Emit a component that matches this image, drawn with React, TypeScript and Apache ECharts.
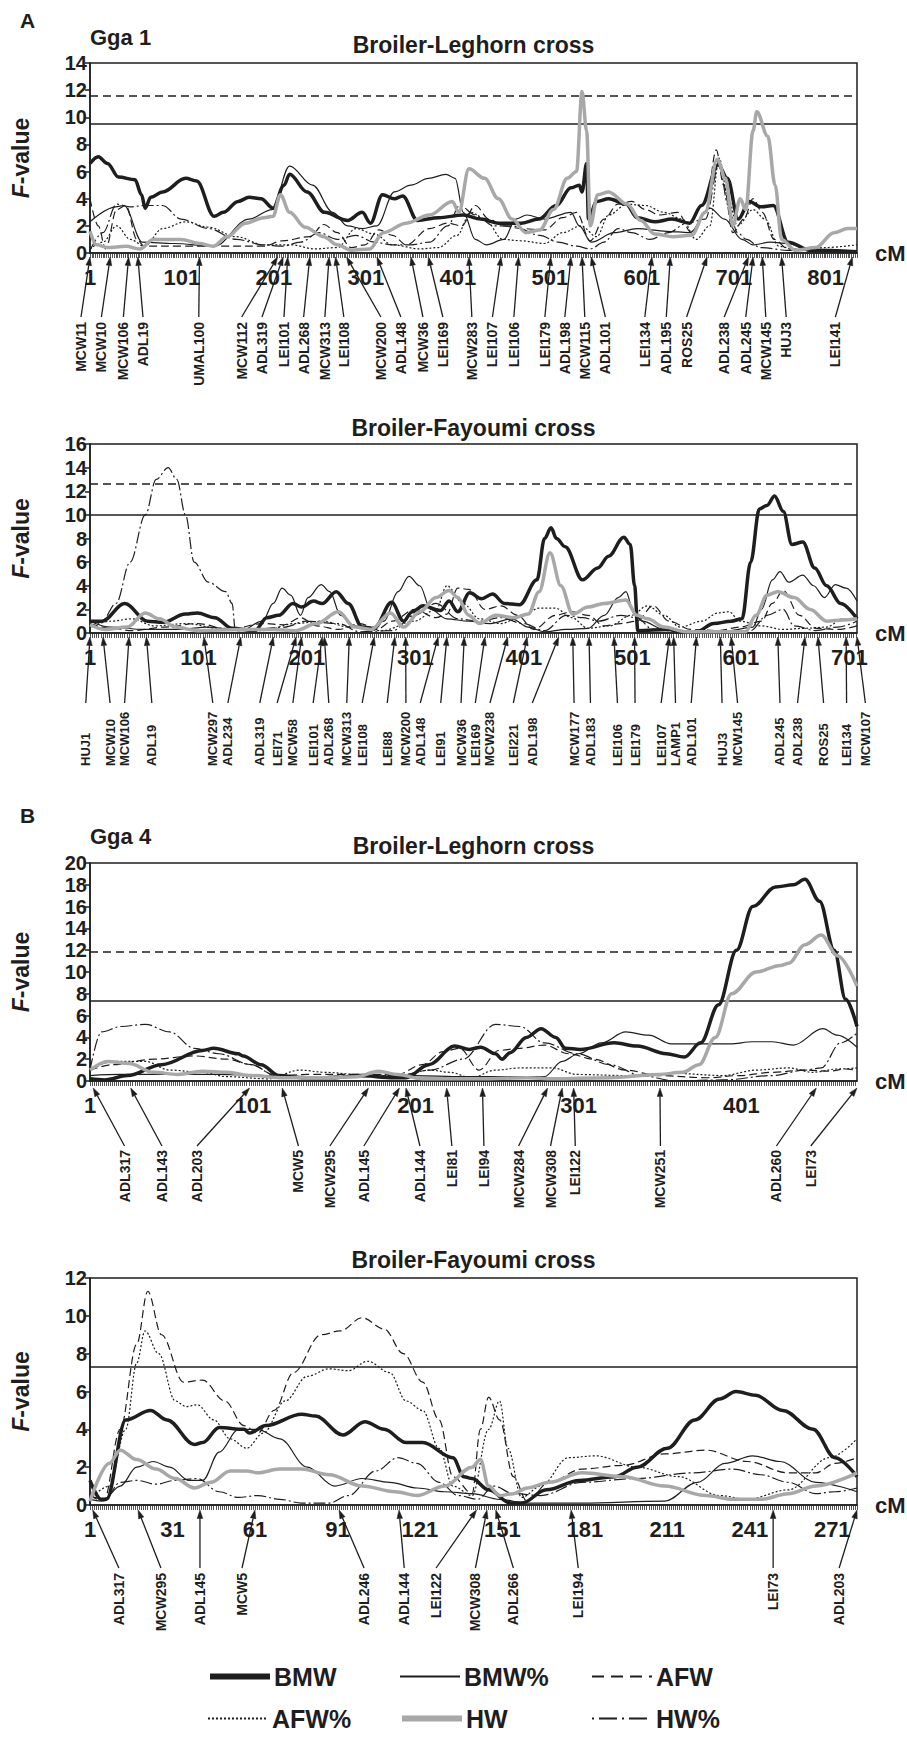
import React, { useEffect, useRef } from "react";
import * as echarts from "echarts";

// ---------------- DATA ----------------
const SERIES_NAMES = ["BMW", "BMW%", "AFW", "AFW%", "HW", "HW%"];

// Panel 1 : Gga 1, Broiler-Leghorn cross
const P1_XLABELS = [1, 101, 201, 301, 401, 501, 601, 701, 801];
const P1_THRESH = [9.5, 11.6];
const P1_BMW = [[1,6.6],[10,7.1],[20,6.6],[32,5.6],[50,5.4],[57,4.3],[61,3.3],[67,4.1],[80,4.5],[105,5.5],[117,5.3],[136,2.7],[146,3.0],[162,3.8],[174,4.1],[187,4.0],[200,3.3],[212,5.0],[218,5.8],[237,4.5],[256,3.0],[281,2.4],[297,3.0],[306,2.2],[319,4.3],[332,4.0],[341,4.2],[357,2.4],[380,2.6],[407,2.8],[426,2.5],[445,2.2],[470,2.2],[489,2.5],[508,3.5],[524,4.8],[533,5.0],[536,4.5],[541,6.6],[543,2.5],[552,3.8],[565,4.0],[584,3.6],[596,2.6],[615,2.3],[634,2.5],[653,2.2],[666,3.5],[684,6.5],[694,5.5],[706,2.5],[718,3.8],[730,3.4],[744,3.5],[760,0.8],[785,0.2],[835,0.1]];
const P1_BMWP = [[1,2.3],[29,3.4],[38,3.5],[58,0.8],[92,0.7],[136,0.5],[174,2.5],[199,3.2],[218,6.4],[243,5.0],[265,3.0],[281,2.0],[297,1.8],[313,2.0],[332,4.5],[350,5.0],[369,5.5],[388,5.8],[398,5.5],[407,3.0],[420,1.0],[432,0.6],[451,1.0],[464,2.5],[476,2.8],[495,2.5],[524,3.0],[533,2.0],[546,0.8],[571,1.5],[596,1.8],[628,1.6],[653,1.5],[675,3.3],[691,2.5],[710,1.0],[722,0.6],[741,0.8],[760,0.7],[785,0.1],[835,0.1]];
const P1_AFW = [[1,4.0],[10,2.0],[18,0.3],[30,3.2],[40,3.5],[52,1.0],[60,0.5],[100,0.5],[140,0.5],[190,0.5],[210,0.9],[240,1.2],[255,2.1],[270,1.5],[285,0.4],[300,0.6],[315,1.7],[330,1.3],[345,0.6],[370,1.8],[390,2.2],[405,2.0],[420,3.5],[435,2.5],[450,2.0],[470,1.8],[495,1.7],[515,2.6],[530,3.0],[545,0.9],[560,2.5],[575,3.6],[590,3.8],[605,3.2],[620,2.8],[640,3.0],[655,1.5],[670,3.0],[682,7.6],[690,5.0],[700,1.5],[712,2.5],[722,4.0],[732,3.0],[745,1.0],[760,0.3],[800,0.2],[835,0.1]];
const P1_AFWP = [[1,0.3],[15,0.8],[30,2.0],[45,1.0],[60,0.5],[80,1.8],[105,2.3],[130,1.9],[160,1.2],[190,0.6],[220,0.6],[245,0.3],[270,0.4],[290,1.8],[310,1.4],[330,0.6],[360,0.3],[380,0.4],[400,1.3],[415,3.0],[430,2.5],[450,1.0],[470,0.9],[495,0.7],[515,1.5],[535,2.0],[552,1.2],[565,2.8],[585,3.6],[605,3.5],[625,3.0],[645,2.5],[660,1.0],[675,2.0],[685,7.0],[695,4.0],[705,2.0],[722,3.2],[735,2.5],[750,0.5],[770,0.2],[800,0.4],[835,0.6]];
const P1_HW = [[1,1.6],[8,0.6],[20,0.4],[40,0.5],[55,0.3],[70,1.0],[100,1.0],[120,0.7],[135,0.5],[150,1.2],[170,2.2],[190,2.6],[200,2.7],[208,4.3],[218,3.0],[235,1.9],[255,1.2],[270,0.6],[285,0.2],[305,0.3],[320,1.5],[345,2.2],[370,2.8],[395,3.8],[402,3.0],[413,6.2],[430,5.5],[445,4.0],[460,2.5],[475,1.5],[490,1.7],[505,3.2],[520,5.5],[530,6.0],[536,11.9],[541,9.0],[545,2.0],[553,4.3],[565,4.5],[585,3.6],[600,2.4],[615,1.4],[635,1.2],[655,1.3],[670,3.0],[683,6.9],[692,5.5],[700,2.0],[708,4.0],[714,3.2],[722,9.0],[726,10.4],[738,8.6],[746,5.0],[753,1.0],[768,0.2],[790,0.4],[810,1.5],[825,1.8],[835,1.8]];
const P1_HWP = [[1,0.2],[15,1.5],[30,3.6],[45,3.4],[60,3.5],[80,3.5],[100,2.5],[130,1.8],[160,1.0],[190,0.6],[210,0.5],[230,0.8],[250,1.5],[270,1.0],[290,1.3],[310,0.8],[330,0.6],[350,0.6],[370,0.8],[390,2.0],[403,3.5],[420,2.8],[440,2.0],[460,2.0],[490,1.3],[510,0.8],[530,0.5],[545,0.3],[560,0.8],[575,1.8],[590,1.5],[610,1.0],[630,1.5],[650,2.2],[670,2.5],[685,6.5],[695,3.5],[705,1.5],[715,1.0],[730,0.4],[760,0.2],[835,0.1]];
const P1_MARKERS = ["MCW11","MCW10","MCW106","ADL19","UMAL100","MCW112","ADL319","LEI101","ADL268","MCW313","LEI108","MCW200","ADL148","MCW36","LEI169","MCW283","LEI107","LEI106","LEI179","ADL198","MCW115","ADL101","LEI134","ADL195","ROS25","ADL238","ADL245","MCW145","HUJ3","LEI141"];
const P1_MARKER_CM = [1,23,43,53,120,205,211,216,240,261,268,280,313,350,369,413,448,467,502,524,536,546,612,632,672,717,722,732,753,830];
const P1_LABEL_CM = [-8.8,13.4,37.3,58.6,119.3,165.9,188,211.9,233.3,256.4,277,317.3,339,363,384.7,416.2,438.6,461.9,495.6,517.3,539,561.4,604.3,627.6,649.7,690.6,714,735.8,758,811.5];

// Panel 2 : Gga 1, Broiler-Fayoumi cross
const P2_XLABELS = [1, 101, 201, 301, 401, 501, 601, 701];
const P2_THRESH = [10.0, 12.6];
const P2_BMW = [[1,1.0],[12,1.0],[33,2.5],[54,1.0],[68,0.9],[89,1.6],[100,1.7],[116,1.3],[132,0.4],[153,0.2],[164,1.3],[175,1.5],[188,2.5],[196,2.2],[207,2.7],[215,2.5],[228,3.5],[239,2.5],[252,0.5],[263,0.4],[279,2.6],[290,1.0],[298,1.8],[308,2.3],[324,1.9],[332,2.7],[340,1.8],[351,3.4],[362,2.9],[372,3.3],[383,2.5],[397,2.4],[413,4.5],[420,8.0],[426,8.9],[431,8.0],[439,7.3],[455,4.5],[469,5.5],[479,6.5],[493,8.1],[499,7.5],[503,4.0],[506,0.2],[533,0.3],[549,0.1],[560,0.1],[576,0.8],[592,1.0],[602,1.2],[610,6.0],[618,10.5],[625,10.8],[632,11.6],[640,10.3],[648,7.5],[658,7.7],[669,5.5],[680,4.0],[693,2.5],[708,1.2]];
const P2_BMWP = [[1,1.0],[20,0.5],[50,0.3],[80,0.3],[110,0.5],[140,0.2],[160,1.0],[170,2.5],[178,3.8],[186,3.2],[195,1.5],[202,3.0],[214,4.1],[222,3.5],[232,1.5],[245,0.6],[260,0.4],[272,1.0],[285,3.5],[295,4.8],[305,4.0],[315,2.0],[330,1.2],[350,1.0],[370,0.8],[390,1.2],[405,0.5],[420,0.1],[440,0.3],[460,0.4],[475,1.5],[488,3.0],[495,3.5],[502,1.8],[510,1.0],[530,0.3],[560,0.1],[590,0.2],[612,0.5],[620,2.0],[630,4.5],[637,5.2],[645,4.3],[658,4.9],[668,4.0],[678,3.0],[688,4.1],[698,3.8],[708,2.7]];
const P2_AFW = [[1,0.8],[20,0.4],[40,0.2],[70,0.5],[100,0.8],[130,0.3],[160,0.8],[180,0.7],[195,1.3],[210,0.6],[230,0.3],[250,0.8],[265,0.3],[280,1.0],[300,2.0],[320,1.3],[330,1.6],[340,3.8],[350,3.7],[365,2.0],[380,2.3],[395,1.5],[410,0.3],[430,1.5],[445,1.8],[460,1.5],[475,0.6],[490,0.8],[505,1.0],[520,2.3],[535,1.0],[555,0.3],[580,0.2],[600,0.5],[620,1.0],[630,2.5],[640,3.6],[655,1.5],[670,0.4],[690,0.3],[708,0.6]];
const P2_AFWP = [[1,0.5],[20,1.0],[40,1.2],[60,0.6],[90,0.8],[120,0.4],[160,0.2],[190,0.8],[215,1.0],[240,0.5],[270,0.2],[300,1.0],[320,2.0],[330,4.0],[345,2.5],[360,1.2],[380,0.8],[400,1.5],[415,2.1],[430,2.1],[445,1.3],[460,0.4],[480,0.6],[500,1.5],[515,2.3],[530,1.5],[545,0.5],[565,1.0],[580,1.7],[590,1.8],[600,1.0],[620,0.6],[640,0.3],[660,0.4],[680,0.5],[695,1.2],[708,1.0]];
const P2_HW = [[1,0.7],[15,0.3],[35,0.5],[52,1.7],[65,1.2],[80,0.5],[100,0.2],[140,0.3],[170,0.3],[190,0.2],[210,0.8],[230,1.8],[245,0.5],[260,0.3],[278,1.7],[290,0.5],[305,1.8],[320,3.0],[332,3.6],[340,3.0],[350,1.5],[360,0.8],[375,1.5],[392,1.3],[405,1.6],[415,3.5],[425,6.8],[435,4.0],[446,1.6],[460,2.2],[475,2.5],[495,2.8],[505,1.5],[515,1.2],[530,0.5],[550,0.1],[580,0.1],[605,0.1],[615,1.5],[625,3.2],[635,3.5],[650,3.0],[665,2.0],[680,1.0],[695,1.1],[708,1.2]];
const P2_HWP = [[1,1.0],[12,1.0],[25,2.5],[38,6.0],[52,10.0],[62,13.0],[73,14.0],[81,13.0],[89,10.0],[97,6.0],[110,4.3],[126,3.5],[132,2.5],[135,0.2],[150,0.3],[180,0.5],[200,1.0],[230,0.8],[250,0.1],[280,0.2],[300,1.5],[320,2.5],[340,1.2],[360,1.0],[380,1.3],[400,0.8],[420,0.2],[440,1.5],[455,1.3],[470,1.0],[490,1.5],[505,1.3],[520,0.3],[545,0.1],[580,0.1],[610,0.2],[625,1.5],[640,2.0],[650,0.6],[670,0.2],[690,0.5],[708,1.0]];
const P2_MARKERS = ["HUJ1","MCW10","MCW106","ADL19","MCW297","ADL234","ADL319","LEI71","MCW58","LEI101","ADL268","MCW313","LEI108","LEI88","MCW200","ADL148","LEI91","MCW36","LEI169","MCW238","LEI221","ADL198","MCW177","ADL183","LEI106","LEI179","LEI107","LAMP1","ADL101","HUJ3","MCW145","ADL245","ADL238","ROS25","LEI134","MCW107"];
const P2_MARKER_CM = [1,13,37,53,106,140,170,191,196,215,217,240,263,282,292,322,330,346,365,386,404,433,446,461,484,503,535,539,560,582,592,635,660,672,698,708];
const P2_LABEL_CM = [-2.9,19.5,32.9,58,114.2,128.1,157.5,173.5,188,206.7,221.1,237.7,251.9,275,292.2,305.4,324.3,343,356.2,369.7,391.2,408.7,447.2,462.3,487.2,503.4,527.5,540.7,555.2,583.6,597.9,637,653.2,677.2,698.4,715.7];

// Panel 3 : Gga 4, Broiler-Leghorn cross
const P3_XLABELS = [1, 101, 201, 301, 401];
const P3_THRESH = [7.4, 11.9];
const P3_BMW = [[1,0.2],[10,0.1],[24,0.5],[45,1.5],[70,2.8],[77,3.0],[92,2.5],[95,2.3],[106,1.5],[117,0.5],[131,0.3],[152,0.3],[166,0.5],[188,0.3],[195,0.3],[209,1.5],[225,3.2],[234,2.9],[241,3.1],[250,2.5],[254,2.0],[259,2.6],[269,4.0],[278,4.8],[287,4.0],[293,3.0],[302,2.9],[323,3.5],[337,3.2],[355,2.5],[366,2.2],[376,3.5],[387,7.0],[398,12.0],[408,16.0],[422,17.8],[433,18.0],[440,18.5],[449,16.5],[458,12.0],[465,7.5],[472,5.0]];
const P3_BMWP = [[1,0.5],[20,0.6],[50,0.6],[80,0.6],[110,0.5],[140,0.4],[170,0.4],[200,0.5],[230,0.4],[260,0.4],[280,0.4],[291,1.8],[301,2.5],[315,3.5],[330,4.5],[344,4.2],[358,3.4],[394,3.4],[408,3.6],[420,3.6],[433,3.3],[451,4.8],[460,4.2],[472,3.1]];
const P3_AFW = [[1,1.0],[15,1.5],[40,2.0],[65,2.3],[85,2.0],[100,1.5],[115,0.5],[135,0.6],[160,0.6],[190,0.6],[205,1.5],[218,2.7],[228,3.0],[240,1.0],[252,2.8],[265,3.0],[280,3.3],[295,2.5],[310,2.0],[330,1.0],[350,0.5],[380,0.3],[400,0.5],[420,0.8],[440,1.0],[455,0.9],[465,1.1],[472,1.0]];
const P3_AFWP = [[1,1.0],[15,1.8],[35,1.8],[50,1.0],[70,0.8],[85,0.4],[110,0.2],[130,1.0],[145,0.8],[165,0.6],[190,0.5],[210,1.0],[222,0.8],[235,0.3],[250,1.0],[265,1.2],[285,1.2],[300,0.6],[330,0.5],[360,0.7],[390,0.5],[410,1.0],[430,1.2],[445,0.8],[460,1.1],[472,1.2]];
const P3_HW = [[1,1.0],[12,1.8],[25,1.6],[40,0.8],[55,0.6],[70,0.9],[85,0.8],[100,0.5],[120,0.3],[145,0.3],[165,0.4],[178,0.9],[190,0.6],[205,0.2],[240,0.2],[270,0.3],[285,0.2],[320,0.3],[350,0.6],[365,0.8],[375,1.5],[385,4.0],[395,8.0],[410,10.0],[425,10.6],[430,10.8],[440,12.5],[450,13.4],[460,11.5],[472,8.7]];
const P3_HWP = [[1,1.0],[8,4.5],[20,5.0],[35,5.2],[50,4.5],[65,3.0],[80,2.5],[100,1.5],[115,0.5],[130,0.3],[160,0.5],[190,0.5],[210,1.0],[230,2.0],[250,5.2],[265,5.0],[280,3.5],[300,2.5],[320,1.5],[340,0.5],[360,0.0],[390,0.1],[420,0.5],[440,1.0],[450,1.2],[462,3.5],[472,4.4]];
const P3_MARKERS = ["ADL317","ADL143","ADL203","MCW5","MCW295","ADL145","ADL144","LEI81","LEI94","MCW284","MCW308","LEI122","MCW251","ADL260","LEI73"];
const P3_MARKER_CM = [3,26,99,119,172,191,195,220,242,282,291,298,351,447,472];
const P3_LABEL_CM = [22.2,45.2,66.7,129,148.3,169.2,203.6,223.2,242.9,264.2,283.8,299,351.3,422.5,443.6];

// Panel 4 : Gga 4, Broiler-Fayoumi cross
const P4_XLABELS = [1, 31, 61, 91, 121, 151, 181, 211, 241, 271];
const P4_THRESH = [7.3];
const P4_BMW = [[1,1.3],[5,0.3],[7,0.3],[14,4.5],[23,5.0],[29,4.5],[39,3.2],[42,3.3],[48,4.1],[57,4.0],[59,3.8],[65,4.2],[78,4.8],[83,4.7],[93,3.7],[101,4.4],[108,4.0],[116,3.3],[122,3.3],[133,2.5],[137,1.5],[140,1.4],[146,0.8],[154,0.1],[158,0.1],[167,0.8],[179,1.3],[192,1.5],[200,2.0],[211,3.0],[221,4.5],[230,5.6],[236,6.0],[243,5.8],[253,5.0],[264,4.0],[272,2.5],[280,1.5]];
const P4_BMWP = [[1,0.5],[6,0.3],[12,1.0],[18,2.0],[24,2.3],[30,2.0],[37,1.3],[42,1.3],[48,2.8],[55,4.0],[62,4.0],[70,3.5],[80,2.0],[90,1.0],[100,1.4],[110,1.2],[120,0.9],[130,0.7],[140,0.6],[150,0.3],[160,0.1],[180,0.1],[210,0.2],[222,1.2],[232,2.2],[242,2.6],[252,2.3],[265,1.2],[280,0.7]];
const P4_AFW = [[1,0.5],[6,0.2],[12,4.0],[18,8.5],[22,11.3],[27,9.0],[35,6.5],[42,6.6],[50,5.5],[57,4.2],[62,3.8],[68,5.0],[75,7.0],[85,9.0],[92,9.2],[100,9.9],[108,9.3],[115,8.0],[122,6.5],[128,4.5],[133,1.5],[140,0.6],[143,4.0],[146,5.7],[150,4.5],[155,1.5],[160,0.2],[168,1.2],[180,1.9],[195,2.1],[210,2.7],[225,2.9],[240,2.3],[255,1.7],[265,1.7],[272,2.2],[280,2.5]];
const P4_AFWP = [[1,0.3],[8,1.0],[14,4.0],[18,7.5],[21,9.2],[26,8.0],[32,5.5],[36,5.2],[40,5.3],[46,4.5],[52,3.5],[58,3.0],[64,3.8],[72,5.5],[80,6.8],[88,7.2],[95,7.1],[102,7.6],[110,7.0],[116,5.5],[122,5.0],[128,3.0],[133,1.0],[140,0.5],[146,4.0],[150,5.5],[153,3.0],[158,0.4],[165,1.0],[175,2.5],[185,2.6],[200,2.0],[215,1.5],[230,0.5],[240,0.3],[255,0.8],[270,2.5],[280,3.5]];
const P4_HW = [[1,0.2],[8,2.2],[12,2.9],[18,2.4],[25,1.9],[32,1.4],[39,0.9],[45,1.2],[52,1.8],[58,1.8],[62,1.7],[70,1.9],[78,1.9],[88,1.6],[100,1.0],[112,0.7],[120,0.5],[130,1.0],[140,2.0],[143,2.4],[146,1.0],[150,0.5],[155,0.6],[160,0.9],[168,1.2],[180,1.7],[195,1.5],[210,1.0],[225,0.5],[235,0.3],[245,0.3],[255,0.6],[265,1.0],[280,1.7]];
const P4_HWP = [[1,0.3],[6,0.2],[12,1.2],[18,1.3],[25,1.1],[32,1.3],[40,1.4],[48,0.7],[55,0.4],[62,0.5],[70,0.3],[78,0.1],[88,0.1],[95,0.5],[105,1.8],[113,2.5],[120,2.2],[128,1.2],[135,0.5],[142,0.3],[148,1.0],[155,0.6],[165,0.5],[180,1.2],[200,1.4],[220,1.7],[235,1.9],[245,1.6],[255,1.2],[265,0.6],[272,0.7],[280,0.9]];
const P4_MARKERS = ["ADL317","MCW295","ADL145","MCW5","ADL246","ADL144","LEI122","MCW308","ADL266","LEI194","LEI73","ADL203"];
const P4_MARKER_CM = [2,18.5,41,61,91.6,113.4,141.6,145.4,148.6,176,249.5,280];
const P4_LABEL_CM = [11.5,26.8,41,56.3,100.7,115.3,126.9,141.2,155,178.6,249.5,273.5];

// ---------------- LAYOUT / STYLE ----------------
const FONT = "'Liberation Sans', Arial, Helvetica, sans-serif";
const NARROW = "'Liberation Sans Narrow', 'Arial Narrow', 'Liberation Sans', Arial, sans-serif";
const INK = "#1e1e1e";
const GREY = "#a8a8a8";

const STYLES: Record<string, any> = {
  BMW: { color: INK, width: 3.5, type: "solid", z: 4, legendWidth: 6 },
  "BMW%": { color: INK, width: 1.2, type: "solid", z: 3 },
  AFW: { color: INK, width: 1.2, type: [8, 4], z: 3, legendType: [12, 7] },
  "AFW%": { color: INK, width: 1.2, type: [2, 2], z: 3 },
  HW: { color: GREY, width: 3.5, type: "solid", z: 5, legendWidth: 6 },
  "HW%": { color: INK, width: 1.2, type: [12, 3, 2, 3], z: 3, legendType: [2, 5, 18, 5] },
};

const PANELS = [
  {
    top: 63, height: 190, xMax: 835, yMax: 14, tickStep: 2, xLabels: P1_XLABELS, thresh: P1_THRESH,
    data: [P1_BMW, P1_BMWP, P1_AFW, P1_AFWP, P1_HW, P1_HWP],
    markers: P1_MARKERS, markerCM: P1_MARKER_CM, labelCM: P1_LABEL_CM,
    mk: { tip: 4, tail: 64, label: 69, align: "right", fontSize: 14 },
  },
  {
    top: 444, height: 189, xMax: 708, yMax: 16, tickStep: 2, xLabels: P2_XLABELS, thresh: P2_THRESH,
    data: [P2_BMW, P2_BMWP, P2_AFW, P2_AFWP, P2_HW, P2_HWP],
    markers: P2_MARKERS, markerCM: P2_MARKER_CM, labelCM: P2_LABEL_CM,
    mk: { tip: 4, tail: 70, label: 133, align: "left", fontSize: 13 },
  },
  {
    top: 863, height: 218, xMax: 472, yMax: 20, tickStep: 1.25, xLabels: P3_XLABELS, thresh: P3_THRESH,
    data: [P3_BMW, P3_BMWP, P3_AFW, P3_AFWP, P3_HW, P3_HWP],
    markers: P3_MARKERS, markerCM: P3_MARKER_CM, labelCM: P3_LABEL_CM,
    mk: { tip: 7, tail: 65, label: 69, align: "right", fontSize: 14 },
  },
  {
    top: 1278, height: 227, xMax: 280, yMax: 12, tickStep: 0.75, xLabels: P4_XLABELS, thresh: P4_THRESH,
    data: [P4_BMW, P4_BMWP, P4_AFW, P4_AFWP, P4_HW, P4_HWP],
    markers: P4_MARKERS, markerCM: P4_MARKER_CM, labelCM: P4_LABEL_CM,
    mk: { tip: 5, tail: 63, label: 68, align: "right", fontSize: 14 },
  },
];

const LEGEND_POS: Record<string, [number, number]> = {
  BMW: [207, 1678], "BMW%": [399, 1678], AFW: [591, 1678],
  "AFW%": [207, 1720], HW: [399, 1720], "HW%": [591, 1720],
};

const HEADINGS = [
  { text: "A", x: 20, y: 20, size: 21, align: "left" },
  { text: "Gga 1", x: 90, y: 37, size: 22, align: "left" },
  { text: "Broiler-Leghorn cross", x: 473.5, y: 45, size: 23, align: "center" },
  { text: "Broiler-Fayoumi cross", x: 473.5, y: 428, size: 23, align: "center" },
  { text: "B", x: 20, y: 815, size: 21, align: "left" },
  { text: "Gga 4", x: 90, y: 836, size: 22, align: "left" },
  { text: "Broiler-Leghorn cross", x: 473.5, y: 846, size: 23, align: "center" },
  { text: "Broiler-Fayoumi cross", x: 473.5, y: 1260, size: 23, align: "center" },
];

function makeMarkerRenderer(names: string[], mk: any) {
  return (params: any, api: any) => {
    const i = params.dataIndex;
    const tip = api.coord([api.value(0), 0]);
    const lab = api.coord([api.value(1), 0]);
    const y0 = tip[1];
    const tipX = tip[0];
    const tipY = y0 + mk.tip;
    const tailX = lab[0];
    const tailY = y0 + mk.tail;
    const dx = tipX - tailX;
    const dy = tipY - tailY;
    const len = Math.hypot(dx, dy) || 1;
    const ux = dx / len;
    const uy = dy / len;
    const ah = 8.5;
    const aw = 2.8;
    const bx = tipX - ux * ah;
    const by = tipY - uy * ah;
    const px = -uy;
    const py = ux;
    return {
      type: "group",
      children: [
        {
          type: "line",
          shape: { x1: tailX, y1: tailY, x2: bx, y2: by },
          style: { stroke: INK, lineWidth: 1.3 },
        },
        {
          type: "polygon",
          shape: { points: [[tipX, tipY], [bx + px * aw, by + py * aw], [bx - px * aw, by - py * aw]] },
          style: { fill: INK, stroke: INK, lineWidth: 0.5 },
        },
        {
          type: "text",
          x: tailX,
          y: y0 + mk.label,
          rotation: Math.PI / 2,
          style: {
            text: names[i],
            fontSize: mk.fontSize,
            fontWeight: "bold",
            fontFamily: FONT,
            fill: INK,
            align: mk.align,
            verticalAlign: "middle",
          },
        },
      ],
    };
  };
}

function buildOption() {
  const grids: any[] = [];
  const xAxes: any[] = [];
  const yAxes: any[] = [];
  const series: any[] = [];

  PANELS.forEach((p, gi) => {
    grids.push({
      left: 90, right: 50, top: p.top, height: p.height,
      show: true, borderColor: INK, borderWidth: 1.5, backgroundColor: "rgba(0,0,0,0)",
      containLabel: false, outerBoundsMode: "none",
    });
    const ticks: number[] = [];
    for (let v = 1; v <= p.xMax + 1e-6; v += p.tickStep) ticks.push(Math.round(v * 100) / 100);
    xAxes.push({
      gridIndex: gi, type: "value", min: 1, max: p.xMax,
      axisLine: { show: true, onZero: false, lineStyle: { color: INK, width: 1.5 } },
      axisTick: { show: true, customValues: ticks, length: 5, lineStyle: { color: "#2a2a2a", width: 0.8 } },
      axisLabel: {
        customValues: p.xLabels, margin: 13, fontSize: 22, fontWeight: "bold", fontFamily: NARROW, color: INK,
        showMinLabel: true, showMaxLabel: true, hideOverlap: false,
      },
      splitLine: { show: false },
      minorTick: { show: false },
      name: "cM", nameLocation: "end", nameGap: 18,
      nameTextStyle: { fontSize: 22, fontWeight: "bold", fontFamily: FONT, color: INK, padding: [14, 0, 0, 0], verticalAlign: "middle" },
    });
    yAxes.push({
      gridIndex: gi, type: "value", min: 0, max: p.yMax, interval: 2,
      axisLine: { show: true, lineStyle: { color: INK, width: 1.5 } },
      axisTick: { show: true, length: 5, lineStyle: { color: INK, width: 1.5 } },
      axisLabel: { margin: 3, fontSize: 20, fontWeight: "bold", fontFamily: FONT, color: INK },
      splitLine: { show: false },
      name: "{i|F}{n|-value}", nameLocation: "middle", nameRotate: 90, nameGap: 58,
      nameTextStyle: {
        rich: {
          i: { fontSize: 23, fontWeight: "bold", fontStyle: "italic", fontFamily: FONT, color: INK },
          n: { fontSize: 23, fontWeight: "bold", fontFamily: FONT, color: INK },
        },
      },
    });

    SERIES_NAMES.forEach((name, si) => {
      const st = STYLES[name];
      const s: any = {
        name, type: "line", xAxisIndex: gi, yAxisIndex: gi, data: p.data[si],
        symbol: "none", showSymbol: false, smooth: 0.35, smoothMonotone: "x",
        color: st.color, z: st.z, silent: true, emphasis: { disabled: true },
        lineStyle: { color: st.color, width: st.width, type: st.type },
      };
      if (name === "BMW") {
        s.markLine = {
          silent: true, symbol: ["none", "none"], animation: false,
          label: { show: false },
          data: p.thresh.map((v, k) => ({
            yAxis: v,
            lineStyle: { color: INK, width: 1.5, type: k === 0 ? "solid" : [8, 5] },
          })),
        };
      }
      series.push(s);
    });

    series.push({
      type: "custom", name: "markers" + gi, xAxisIndex: gi, yAxisIndex: gi, clip: false, silent: true, z: 6,
      renderItem: makeMarkerRenderer(p.markers, p.mk),
      encode: { x: 0, y: 2 },
      data: p.markerCM.map((c, k) => [c, p.labelCM[k], 0]),
    });
  });

  const legends = SERIES_NAMES.map((name) => {
    const [lx, ly] = LEGEND_POS[name];
    const st = STYLES[name];
    const item: any = { name, itemStyle: { opacity: 0 } };
    const ls: any = {};
    if (st.legendWidth) ls.width = st.legendWidth;
    if (st.legendType) ls.type = st.legendType;
    if (Object.keys(ls).length) item.lineStyle = ls;
    return {
      data: [item], left: lx, top: ly - 14, padding: 0, itemWidth: 60, itemHeight: 14, itemGap: 4,
      selectedMode: false,
      itemStyle: { opacity: 0 },
      textStyle: { fontSize: 25, fontWeight: "bold", fontFamily: FONT, color: INK, padding: [0, 0, 0, -1] },
    };
  });

  const graphic = HEADINGS.map((h) => ({
    type: "text", x: h.x, y: h.y, silent: true,
    style: {
      text: h.text, fontSize: h.size, fontWeight: "bold", fontFamily: FONT, fill: INK,
      align: h.align, verticalAlign: "middle", textAlign: h.align, textVerticalAlign: "middle",
    },
  }));

  return {
    animation: false,
    backgroundColor: "#ffffff",
    grid: grids,
    xAxis: xAxes,
    yAxis: yAxes,
    series,
    legend: legends,
    graphic,
    tooltip: { show: false },
  };
}

export default function App() {
  const ref = useRef<HTMLDivElement>(null);
  useEffect(() => {
    if (!ref.current) return;
    const chart = echarts.init(ref.current, null, { renderer: "svg" });
    chart.setOption(buildOption() as any);
    return () => chart.dispose();
  }, []);
  return (
    <div
      ref={ref}
      style={{ position: "absolute", left: 0, top: 0, width: 907, height: 1738, background: "#fff" }}
    />
  );
}
